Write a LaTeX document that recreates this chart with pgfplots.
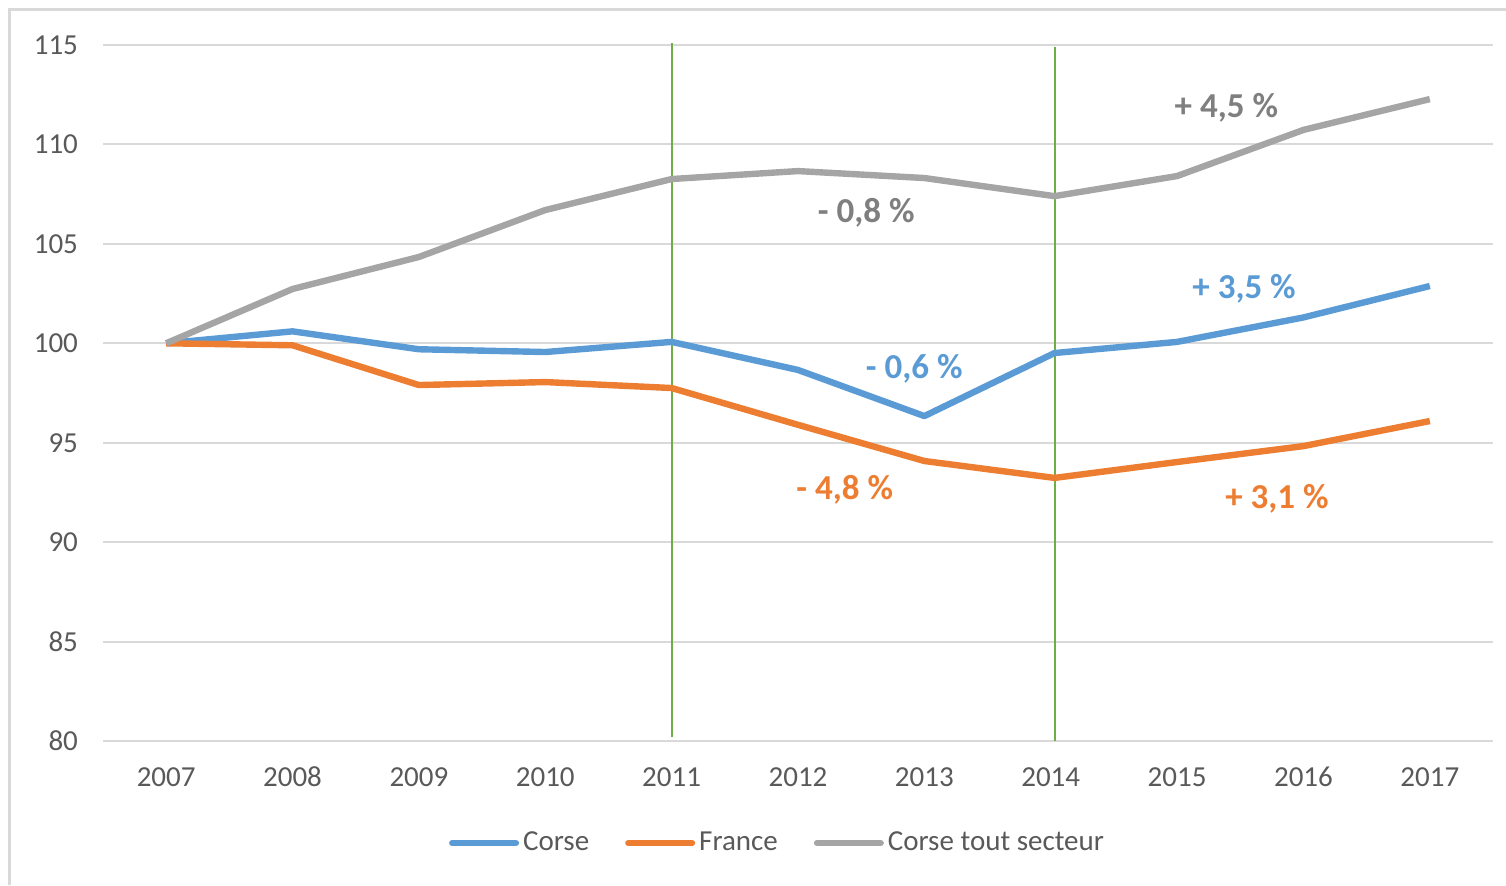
\documentclass[border=0pt]{standalone}
\usepackage{pgfplots}
\pgfplotsset{compat=1.18}
\usepackage{fontspec}
\setmainfont{Carlito}
\definecolor{cblue}{HTML}{5B9BD5}
\definecolor{corange}{HTML}{ED7D31}
\definecolor{cgrey}{HTML}{A5A5A5}
\definecolor{cgreen}{HTML}{70AD47}
\definecolor{cgrid}{HTML}{D9D9D9}
\definecolor{ctext}{HTML}{595959}
\definecolor{cannot}{HTML}{7F7F7F}
\begin{document}
\begin{tikzpicture}
\useasboundingbox (-51.5pt,-72pt) rectangle (701.5pt,370.5pt);
\draw[cgrid, line width=1.5pt] (-46.5pt,-72pt) -- (-46.5pt,365.5pt) -- (701.5pt,365.5pt);
\begin{axis}[
  scale only axis, width=695pt, height=348pt,
  at={(0,0)}, anchor=south west,
  xmin=2006.5, xmax=2017.5, ymin=80, ymax=115,
  xtick={2007,2008,...,2017}, ytick={80,85,...,115},
  axis line style={draw=none},
  major tick length=0pt,
  ymajorgrids, grid style={cgrid, line width=1pt},
  tick label style={font=\fontsize{14.5}{16}\selectfont, text=ctext},
  /pgf/number format/.cd, 1000 sep={}, assume math mode=true, /pgfplots/.cd,
  yticklabel style={xshift=-9pt},
  xticklabel style={text height=9.2pt, text depth=0pt, yshift=-10pt},
  legend style={at={(0.486,-0.1466)}, anchor=center, draw=none, fill=none,
    font=\fontsize{14.5}{16}\selectfont, text=ctext,
    /tikz/every even column/.append style={column sep=16pt}},
  legend columns=3,
  legend image code/.code={\draw[#1, line width=3pt, line cap=round] (0pt,0pt) -- (32pt,0pt);},
  clip=false,
]
\addplot[cgreen, line width=1pt, forget plot] coordinates {(2011,80.2) (2011,115.1)};
\addplot[cgreen, line width=1pt, forget plot] coordinates {(2014.03,80) (2014.03,114.9)};
\addplot[cblue, line width=3.2pt, line join=round] coordinates {
(2007,100) (2008,100.6) (2009,99.7) (2010,99.56) (2011,100.07) (2012,98.66) (2013,96.34) (2014.03,99.51) (2015,100.07) (2016,101.3) (2017,102.88)};
\addlegendentry{Corse}
\addplot[corange, line width=3.2pt, line join=round] coordinates {
(2007,100) (2008,99.9) (2009,97.9) (2010,98.05) (2011,97.75) (2012,95.9) (2013,94.08) (2014.03,93.23) (2015,94.03) (2016,94.83) (2017,96.09)};
\addlegendentry{France}
\addplot[cgrey, line width=3.2pt, line join=round] coordinates {
(2007,100) (2008,102.73) (2009,104.34) (2010,106.7) (2011,108.26) (2012,108.66) (2013,108.31) (2014.03,107.4) (2015,108.41) (2016,110.73) (2017,112.28)};
\addlegendentry{Corse tout secteur}
\begin{scope}[every node/.style={font=\fontsize{17.5}{20}\selectfont\bfseries}]
\node[text=cannot] at (axis cs:2012.54,106.55) {- 0,8 \%};
\node[text=cannot] at (axis cs:2015.39,111.83) {+ 4,5 \%};
\node[text=cblue] at (axis cs:2015.53,102.73) {+ 3,5 \%};
\node[text=cblue] at (axis cs:2012.92,98.71) {- 0,6 \%};
\node[text=corange] at (axis cs:2012.37,92.62) {- 4,8 \%};
\node[text=corange] at (axis cs:2015.79,92.17) {+ 3,1 \%};
\end{scope}
\end{axis}
\end{tikzpicture}
\end{document}
